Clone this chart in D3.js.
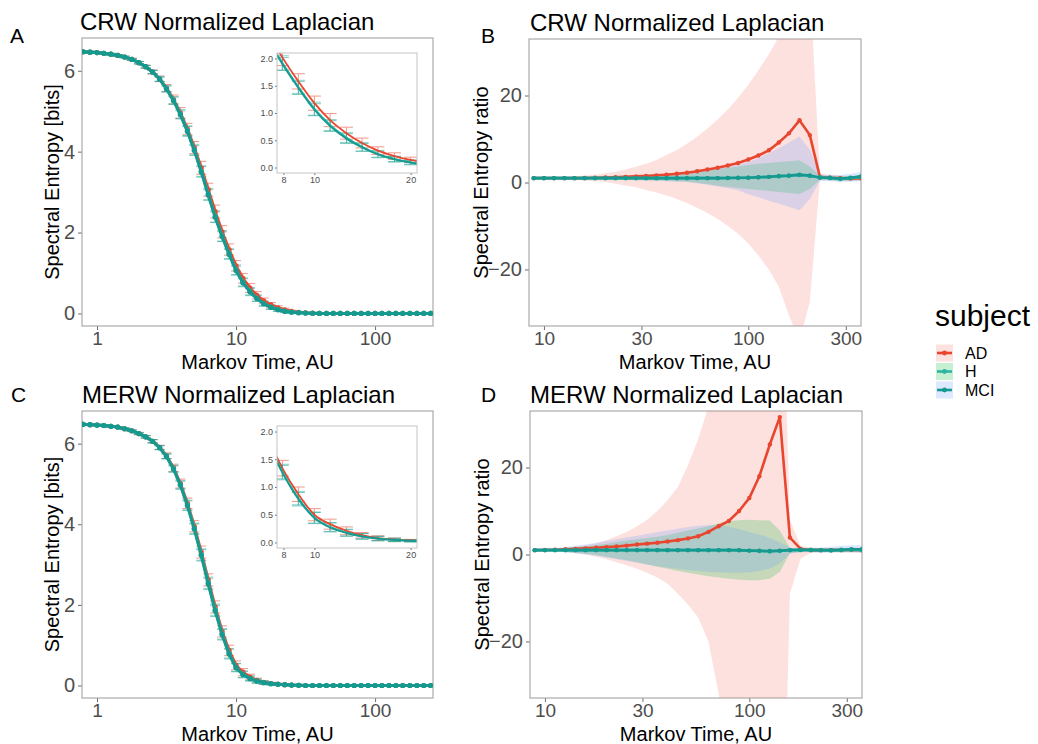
<!DOCTYPE html>
<html lang="en">
<head>
<meta charset="UTF-8">
<script src="https://d3js.org/d3.v7.min.js"></script>
<title>Spectral Entropy</title>
<style>
  body { margin: 0; background: #fff; }
  text { font-family: "Liberation Sans", Arial, sans-serif; }
</style>
</head>
<body>
<svg id="chart" width="1038" height="744"></svg>
<script>
// ---- data ----
// Markov time grid for panels A and C
const timeEntropy = [
  0.794, 0.891, 1, 1.12, 1.26, 1.41, 1.58, 1.78, 2.0, 2.24,
  2.51, 2.82, 3.16, 3.55, 3.98, 4.47, 5.01, 5.62, 6.31, 7.08,
  7.94, 8.91, 10, 11.2, 12.6, 14.1, 15.8, 17.8, 20, 22.4,
  25.1, 28.2, 31.6, 35.5, 39.8, 44.7, 50.1, 56.2, 63.1, 70.8,
  79.4, 89.1, 100, 112, 126, 141, 158, 178, 200, 224,
  251];
// Markov time grid for panels B and D
const timeRatio = [
  8.91, 10, 11.2, 12.6, 14.1, 15.8, 17.8, 20, 22.4, 25.1,
  28.2, 31.6, 35.5, 39.8, 44.7, 50.1, 56.2, 63.1, 70.8, 79.4,
  89.1, 100, 112, 126, 141, 158, 178, 200, 224, 251,
  282, 316, 355];

const subjects = ["AD", "H", "MCI"];

// A: CRW spectral entropy (mean, sd)
const crwAD = [
  6.47, 6.46, 6.45, 6.43, 6.41, 6.38, 6.34, 6.28, 6.20, 6.10,
  5.97, 5.80, 5.57, 5.29, 4.96, 4.56, 4.10, 3.60, 3.06, 2.52,
  2.02, 1.58, 1.18, 0.87, 0.63, 0.45, 0.31, 0.21, 0.14, 0.09,
  0.05, 0.03, 0.015, 0.008, 0, 0, 0, 0, 0, 0,
  0, 0, 0, 0, 0, 0, 0, 0, 0, 0,
  0];
const crwH = [
  6.47, 6.46, 6.45, 6.43, 6.41, 6.38, 6.34, 6.28, 6.20, 6.10,
  5.97, 5.80, 5.56, 5.27, 4.93, 4.52, 4.05, 3.52, 2.95, 2.40,
  1.92, 1.48, 1.08, 0.78, 0.55, 0.38, 0.25, 0.16, 0.10, 0.06,
  0.035, 0.02, 0.01, 0.005, 0, 0, 0, 0, 0, 0,
  0, 0, 0, 0, 0, 0, 0, 0, 0, 0,
  0];
const crwMCI = [
  6.47, 6.46, 6.45, 6.43, 6.41, 6.38, 6.34, 6.28, 6.20, 6.10,
  5.97, 5.79, 5.55, 5.26, 4.91, 4.50, 4.03, 3.50, 2.93, 2.38,
  1.90, 1.46, 1.06, 0.76, 0.53, 0.37, 0.24, 0.15, 0.09, 0.05,
  0.03, 0.02, 0.01, 0.005, 0, 0, 0, 0, 0, 0,
  0, 0, 0, 0, 0, 0, 0, 0, 0, 0,
  0];
const crwSdAD = [
  0.02, 0.02, 0.02, 0.02, 0.02, 0.02, 0.02, 0.03, 0.03, 0.04,
  0.05, 0.07, 0.09, 0.11, 0.13, 0.14, 0.15, 0.16, 0.16, 0.16,
  0.15, 0.14, 0.13, 0.12, 0.11, 0.09, 0.07, 0.06, 0.05, 0.04,
  0.03, 0.02, 0.015, 0.01, 0.005, 0, 0, 0, 0, 0,
  0, 0, 0, 0, 0, 0, 0, 0, 0, 0,
  0];
const crwSdH = [
  0.02, 0.02, 0.02, 0.02, 0.02, 0.02, 0.02, 0.02, 0.03, 0.03,
  0.04, 0.06, 0.08, 0.09, 0.11, 0.12, 0.13, 0.13, 0.14, 0.14,
  0.13, 0.12, 0.12, 0.10, 0.09, 0.08, 0.06, 0.05, 0.04, 0.03,
  0.02, 0.015, 0.01, 0.01, 0.005, 0, 0, 0, 0, 0,
  0, 0, 0, 0, 0, 0, 0, 0, 0, 0,
  0];
const crwSdMCI = [
  0.02, 0.02, 0.02, 0.02, 0.02, 0.02, 0.02, 0.02, 0.03, 0.03,
  0.04, 0.05, 0.07, 0.09, 0.10, 0.12, 0.12, 0.13, 0.13, 0.13,
  0.12, 0.12, 0.11, 0.10, 0.09, 0.07, 0.06, 0.05, 0.04, 0.03,
  0.02, 0.015, 0.01, 0.01, 0.005, 0, 0, 0, 0, 0,
  0, 0, 0, 0, 0, 0, 0, 0, 0, 0,
  0];

// C: MERW spectral entropy (mean, sd)
const merwAD = [
  6.48, 6.47, 6.46, 6.45, 6.43, 6.41, 6.37, 6.32, 6.25, 6.17,
  6.06, 5.91, 5.70, 5.40, 5.01, 4.52, 3.95, 3.31, 2.62, 1.95,
  1.34, 0.87, 0.50, 0.33, 0.21, 0.13, 0.08, 0.05, 0.035, 0.02,
  0.01, 0.005, 0, 0, 0, 0, 0, 0, 0, 0,
  0, 0, 0, 0, 0, 0, 0, 0, 0, 0,
  0];
const merwH = [
  6.48, 6.47, 6.46, 6.45, 6.43, 6.41, 6.37, 6.32, 6.25, 6.17,
  6.06, 5.90, 5.69, 5.38, 4.98, 4.48, 3.90, 3.25, 2.55, 1.88,
  1.28, 0.80, 0.45, 0.28, 0.18, 0.11, 0.07, 0.045, 0.03, 0.02,
  0.01, 0.005, 0, 0, 0, 0, 0, 0, 0, 0,
  0, 0, 0, 0, 0, 0, 0, 0, 0, 0,
  0];
const merwMCI = [
  6.48, 6.47, 6.46, 6.45, 6.43, 6.41, 6.37, 6.32, 6.25, 6.17,
  6.06, 5.90, 5.68, 5.37, 4.97, 4.46, 3.88, 3.23, 2.52, 1.85,
  1.26, 0.78, 0.44, 0.27, 0.17, 0.11, 0.07, 0.045, 0.03, 0.02,
  0.01, 0.005, 0, 0, 0, 0, 0, 0, 0, 0,
  0, 0, 0, 0, 0, 0, 0, 0, 0, 0,
  0];
const merwSdAD = [
  0.01, 0.01, 0.01, 0.01, 0.01, 0.01, 0.02, 0.02, 0.03, 0.03,
  0.04, 0.05, 0.07, 0.09, 0.11, 0.13, 0.14, 0.15, 0.15, 0.15,
  0.14, 0.13, 0.11, 0.09, 0.07, 0.05, 0.04, 0.03, 0.02, 0.015,
  0.01, 0.005, 0, 0, 0, 0, 0, 0, 0, 0,
  0, 0, 0, 0, 0, 0, 0, 0, 0, 0,
  0];
const merwSdH = [
  0.01, 0.01, 0.01, 0.01, 0.01, 0.01, 0.02, 0.02, 0.02, 0.03,
  0.04, 0.05, 0.06, 0.08, 0.10, 0.12, 0.13, 0.14, 0.14, 0.14,
  0.13, 0.12, 0.10, 0.08, 0.06, 0.05, 0.04, 0.03, 0.02, 0.015,
  0.01, 0.005, 0, 0, 0, 0, 0, 0, 0, 0,
  0, 0, 0, 0, 0, 0, 0, 0, 0, 0,
  0];
const merwSdMCI = merwSdH;

// B: CRW spectral entropy ratio (mean, lower, upper)
const crwRatioAD   = [1.0, 1.0, 1.0, 1.0, 1.0, 1.05, 1.1, 1.15, 1.2, 1.3, 1.4, 1.5, 1.65, 1.8, 2.0, 2.25, 2.6, 3.0, 3.4, 3.9, 4.5, 5.3, 6.2, 7.4, 9.2, 11.3, 14.3, 10.9, 1.3, 1.1, 1.0, 0.9, 1.0];
const crwRatioADLo = [0.9, 0.9, 0.8, 0.7, 0.6, 0.4, 0.3, 0.1, -0.3, -0.7, -1.1, -1.7, -2.3, -3.0, -3.8, -4.7, -5.8, -7.0, -8.4, -10.0, -11.8, -14.0, -16.8, -20.0, -24.0, -30.5, -36.5, -27.5, 0.5, 0.5, 0.4, 0.3, 0.4];
const crwRatioADHi = [1.1, 1.1, 1.2, 1.3, 1.4, 1.6, 1.8, 2.1, 2.5, 3.0, 3.6, 4.3, 5.2, 6.3, 7.5, 8.9, 10.5, 12.4, 14.5, 16.8, 19.5, 22.5, 25.8, 29.5, 33.5, 38, 44, 46, 2.0, 1.8, 1.6, 1.5, 1.6];
const crwRatioH    = [1.0, 1.0, 1.0, 1.0, 1.0, 1.0, 1.0, 1.0, 1.0, 1.0, 1.0, 1.0, 1.0, 1.0, 1.0, 1.0, 1.0, 1.0, 1.0, 1.02, 1.05, 1.1, 1.2, 1.3, 1.4, 1.5, 1.7, 1.5, 1.2, 1.0, 0.8, 1.0, 1.3];
const crwRatioHLo  = [0.95, 0.95, 0.9, 0.9, 0.85, 0.8, 0.75, 0.7, 0.65, 0.6, 0.55, 0.5, 0.45, 0.4, 0.3, 0.2, -0.1, -0.4, -0.75, -1.0, -1.25, -1.5, -1.7, -1.95, -2.2, -2.4, -2.65, -1.5, 0.6, 0.5, 0.3, 0.5, 0.6];
const crwRatioHHi  = [1.05, 1.05, 1.1, 1.1, 1.15, 1.2, 1.25, 1.3, 1.4, 1.5, 1.6, 1.7, 1.8, 1.9, 2.0, 2.2, 2.5, 2.8, 3.1, 3.4, 3.7, 4.0, 4.3, 4.5, 4.7, 4.9, 5.1, 3.7, 1.6, 1.5, 1.4, 1.5, 1.6];
const crwRatioMCI   = [1.0, 1.0, 1.0, 1.0, 1.0, 1.0, 1.0, 1.0, 1.0, 1.0, 1.0, 1.0, 1.0, 1.0, 1.0, 1.0, 1.0, 1.0, 1.0, 1.05, 1.1, 1.1, 1.2, 1.3, 1.5, 1.6, 1.8, 1.6, 1.1, 1.1, 0.9, 1.1, 1.4];
const crwRatioMCILo = [0.9, 0.9, 0.85, 0.85, 0.8, 0.75, 0.7, 0.65, 0.6, 0.55, 0.5, 0.45, 0.4, 0.3, 0.2, 0.1, -0.2, -0.5, -0.9, -1.3, -1.8, -2.7, -3.4, -4.2, -4.9, -5.6, -6.4, -3.8, 0.4, 0.3, 0.1, 0.2, 0.3];
const crwRatioMCIHi = [1.1, 1.1, 1.15, 1.2, 1.25, 1.3, 1.35, 1.45, 1.55, 1.65, 1.75, 1.85, 1.95, 2.05, 2.2, 2.4, 2.7, 3.0, 3.3, 3.6, 4.1, 4.8, 5.6, 6.7, 7.9, 9.2, 10.6, 7.6, 1.8, 1.8, 1.7, 2.0, 2.5];

// D: MERW spectral entropy ratio (mean, lower, upper)
const merwRatioAD   = [1.0, 1.05, 1.1, 1.2, 1.3, 1.4, 1.55, 1.7, 1.85, 2.05, 2.3, 2.5, 2.7, 3.0, 3.3, 3.7, 4.2, 5.2, 6.5, 7.7, 10.0, 13.0, 18.0, 25.3, 31.6, 3.9, 1.3, 1.0, 1.0, 1.0, 1.0, 1.1, 1.0];
const merwRatioADLo = [0.9, 0.8, 0.7, 0.6, 0.3, 0, -0.5, -1.1, -1.8, -2.5, -3.3, -4.2, -5.3, -6.7, -9.0, -11.5, -14.5, -20, -32, -45, -55, -65, -75, -90, -101, -9, -1, 0.4, 0.5, 0.5, 0.5, 0.4, 0.4];
const merwRatioADHi = [1.2, 1.3, 1.4, 1.5, 1.8, 2.1, 2.6, 3.3, 4.2, 5.2, 6.5, 8.0, 10.0, 12.5, 15.5, 20.5, 26.5, 34, 42, 50, 60, 70, 80, 85, 86, 8, 2, 1.6, 1.5, 1.5, 1.5, 1.6, 1.6];
const merwRatioH    = [1.0, 1.0, 1.0, 1.0, 1.0, 1.0, 1.0, 1.0, 1.0, 1.0, 1.0, 1.0, 1.0, 1.0, 1.0, 1.0, 1.0, 1.0, 1.0, 1.0, 0.95, 0.9, 0.8, 0.7, 0.8, 1.0, 1.0, 1.1, 1.0, 0.9, 1.0, 1.1, 1.0];
const merwRatioHLo  = [0.9, 0.85, 0.8, 0.6, 0.4, 0.2, -0.1, -0.5, -0.9, -1.3, -1.8, -2.3, -2.8, -3.3, -3.8, -4.2, -4.6, -5.0, -5.3, -5.6, -5.8, -5.9, -5.9, -5.6, -4.0, 0.3, 0.6, 0.6, 0.5, 0.5, 0.5, 0.6, 0.5];
const merwRatioHHi  = [1.2, 1.3, 1.4, 1.5, 1.7, 1.9, 2.2, 2.5, 2.9, 3.2, 3.5, 3.8, 4.1, 4.5, 5.0, 5.5, 6.0, 6.5, 7.2, 7.7, 7.9, 8.0, 7.9, 7.8, 5.5, 1.5, 1.4, 1.5, 1.4, 1.4, 1.5, 1.5, 1.5];
const merwRatioMCI   = [1.0, 1.0, 1.0, 1.0, 1.0, 1.0, 1.0, 1.0, 1.0, 1.0, 1.0, 1.0, 1.0, 1.0, 1.0, 1.0, 1.0, 1.0, 1.0, 1.0, 1.0, 0.9, 0.85, 0.8, 0.9, 1.0, 1.1, 1.0, 1.0, 1.0, 1.1, 1.2, 1.2];
const merwRatioMCILo = [0.9, 0.85, 0.7, 0.5, 0.3, 0.0, -0.3, -0.7, -1.1, -1.5, -1.9, -2.3, -2.7, -3.0, -3.3, -3.6, -3.8, -4.0, -4.1, -4.2, -4.2, -4.1, -3.8, -3.2, -2.0, 0.2, 0.5, 0.5, 0.4, 0.5, 0.5, 0.5, 0.5];
const merwRatioMCIHi = [1.2, 1.3, 1.5, 1.7, 2.0, 2.3, 2.7, 3.1, 3.5, 3.9, 4.3, 4.7, 5.1, 5.5, 5.9, 6.3, 6.6, 6.8, 6.8, 6.4, 5.8, 5.2, 4.6, 3.8, 2.8, 1.6, 1.4, 1.5, 1.6, 1.8, 2.0, 2.1, 2.2];

// ---- style ----
const lineColor = {AD: "#E8462F", H: "#2CB5A2", MCI: "#16998F"};
const ribbonColor = {AD: "#F8766D", H: "#00BA38", MCI: "#619CFF"};
const ribbonAlpha = 0.22;
const tickGrey = "#4D4D4D";
const font = "Liberation Sans, Arial, sans-serif";

const svg = d3.select("#chart");
svg.append("rect").attr("width", 1038).attr("height", 744).attr("fill", "#fff");

function styleAxis(g, size) {
  g.select(".domain").remove();
  g.attr("font-size", size).attr("font-family", font);
  g.selectAll(".tick line").attr("stroke", "#6b6b6b");
  g.selectAll(".tick text").attr("fill", tickGrey);
}

function panelFrame(p, x, y, xTicks, yTicks, yFmt) {
  svg.append("g").attr("transform", `translate(0,${p.y1})`)
    .call(d3.axisBottom(x).tickValues(xTicks).tickFormat(d3.format("d")).tickSize(4).tickPadding(2))
    .call(g => styleAxis(g, 19));
  svg.append("g").attr("transform", `translate(${p.x0},0)`)
    .call(d3.axisLeft(y).tickValues(yTicks).tickFormat(yFmt).tickSize(4).tickPadding(3))
    .call(g => styleAxis(g, 20));
  svg.append("rect").attr("x", p.x0).attr("y", p.y0)
    .attr("width", p.x1 - p.x0).attr("height", p.y1 - p.y0)
    .attr("fill", "none").attr("stroke", "#ababab").attr("stroke-width", 1.2);
  svg.append("text").attr("x", p.titleX).attr("y", p.y0 - 8)
    .attr("font-size", 24).attr("fill", "#000").text(p.title);
  svg.append("text").attr("x", p.labelX).attr("y", p.labelY)
    .attr("font-size", 21).attr("font-family", "Lato, 'Open Sans', sans-serif").text(p.label);
  svg.append("text").attr("x", (p.x0 + p.x1) / 2).attr("y", p.y1 + 42.5)
    .attr("text-anchor", "middle").attr("font-size", 20).text("Markov Time, AU");
  svg.append("text")
    .attr("transform", `translate(${p.yTitleX},${(p.y0 + p.y1) / 2}) rotate(-90)`)
    .attr("text-anchor", "middle").attr("font-size", 20).text(p.yTitle);
}

function clipFor(id, x0, y0, w, h) {
  svg.append("clipPath").attr("id", id)
    .append("rect").attr("x", x0).attr("y", y0).attr("width", w).attr("height", h);
  return `url(#${id})`;
}

function errorBars(g, x, y, t, mean, sd, color, capW, idx) {
  idx.forEach(i => {
    if (sd[i] <= 0) return;
    const cx = x(t[i]), lo = y(mean[i] - sd[i]), hi = y(mean[i] + sd[i]);
    const e = g.append("g").attr("stroke", color).attr("stroke-width", 1).attr("opacity", 0.55);
    e.append("line").attr("x1", cx).attr("x2", cx).attr("y1", lo).attr("y2", hi);
    e.append("line").attr("x1", cx - capW / 2).attr("x2", cx + capW / 2).attr("y1", lo).attr("y2", lo);
    e.append("line").attr("x1", cx - capW / 2).attr("x2", cx + capW / 2).attr("y1", hi).attr("y2", hi);
  });
}

function entropyPanel(p, series, sds) {
  const x = d3.scaleLog().domain([0.78, 261]).range([p.x0, p.x1]);
  const y = d3.scaleLinear().domain([-0.31, 6.81]).range([p.y1, p.y0]);
  panelFrame(p, x, y, [1, 10, 100], [0, 2, 4, 6], d3.format("d"));

  const g = svg.append("g").attr("clip-path", clipFor("clip" + p.label, p.x0, p.y0, p.x1 - p.x0, p.y1 - p.y0));
  const all = d3.range(timeEntropy.length);
  subjects.forEach(s => errorBars(g, x, y, timeEntropy, series[s], sds[s], lineColor[s], 10, all));
  const line = d3.line().x((d, i) => x(timeEntropy[i])).y(d => y(d));
  subjects.forEach(s => {
    g.append("path").attr("d", line(series[s])).attr("fill", "none")
      .attr("stroke", lineColor[s]).attr("stroke-width", 3);
    g.selectAll(null).data(series[s]).enter().append("circle")
      .attr("cx", (d, i) => x(timeEntropy[i])).attr("cy", d => y(d))
      .attr("r", 2.6).attr("fill", lineColor[s]);
  });

  // inset zoom of t = 8..20
  const q = p.inset;
  const xi = d3.scaleLog().domain([7.64, 20.94]).range([q.x0, q.x1]);
  const yi = d3.scaleLinear().domain([-0.1, 2.1]).range([q.y1, q.y0]);
  svg.append("rect").attr("x", q.x0).attr("y", q.y0).attr("width", q.x1 - q.x0).attr("height", q.y1 - q.y0)
    .attr("fill", "#fff");
  const gi = svg.append("g").attr("clip-path", clipFor("inset" + p.label, q.x0, q.y0, q.x1 - q.x0, q.y1 - q.y0));
  const near = d3.range(timeEntropy.length).filter(i => timeEntropy[i] > 7 && timeEntropy[i] < 23);
  const bars = near.filter(i => timeEntropy[i] > 7.5 && timeEntropy[i] < 21);
  subjects.forEach(s => errorBars(gi, xi, yi, timeEntropy, series[s], sds[s], lineColor[s], 13, bars));
  const lineI = d3.line().curve(d3.curveMonotoneX).x(i => xi(timeEntropy[i]));
  subjects.forEach(s => {
    gi.append("path").attr("d", lineI.y(i => yi(series[s][i]))(near)).attr("fill", "none")
      .attr("stroke", lineColor[s]).attr("stroke-width", 1.8);
  });
  svg.append("g").attr("transform", `translate(0,${q.y1})`)
    .call(d3.axisBottom(xi).tickValues([8, 10, 20]).tickFormat(d3.format("d")).tickSize(2).tickPadding(2))
    .call(g2 => styleAxis(g2, 9));
  svg.append("g").attr("transform", `translate(${q.x0},0)`)
    .call(d3.axisLeft(yi).tickValues([0, 0.5, 1, 1.5, 2]).tickFormat(d3.format(".1f")).tickSize(2).tickPadding(2))
    .call(g2 => styleAxis(g2, 9));
  svg.append("rect").attr("x", q.x0).attr("y", q.y0).attr("width", q.x1 - q.x0).attr("height", q.y1 - q.y0)
    .attr("fill", "none").attr("stroke", "#c4c4c4").attr("stroke-width", 1);
}

function ratioPanel(p, mean, lo, hi) {
  const x = d3.scaleLog().domain([8.45, 356]).range([p.x0, p.x1]);
  const y = d3.scaleLinear().domain([-33, 33]).range([p.y1, p.y0]);
  panelFrame(p, x, y, [10, 30, 100, 300], [-20, 0, 20], d3.format("d"));

  const g = svg.append("g").attr("clip-path", clipFor("clip" + p.label, p.x0, p.y0, p.x1 - p.x0, p.y1 - p.y0));
  subjects.forEach(s => {
    const area = d3.area().x((d, i) => x(timeRatio[i])).y0((d, i) => y(lo[s][i])).y1((d, i) => y(hi[s][i]));
    g.append("path").attr("d", area(mean[s])).attr("fill", ribbonColor[s]).attr("fill-opacity", ribbonAlpha);
  });
  const line = d3.line().x((d, i) => x(timeRatio[i])).y(d => y(d));
  subjects.forEach(s => {
    g.append("path").attr("d", line(mean[s])).attr("fill", "none")
      .attr("stroke", lineColor[s]).attr("stroke-width", 2.6);
    g.selectAll(null).data(mean[s]).enter().append("circle")
      .attr("cx", (d, i) => x(timeRatio[i])).attr("cy", d => y(d))
      .attr("r", 2.2).attr("fill", lineColor[s]);
  });
}

entropyPanel(
  {x0: 82, x1: 433, y0: 38, y1: 326, title: "CRW Normalized Laplacian", titleX: 80,
   label: "A", labelX: 10, labelY: 43, yTitle: "Spectral Entropy [bits]", yTitleX: 59,
   inset: {x0: 277, x1: 417, y0: 53, y1: 173}},
  {AD: crwAD, H: crwH, MCI: crwMCI}, {AD: crwSdAD, H: crwSdH, MCI: crwSdMCI});

entropyPanel(
  {x0: 82, x1: 433, y0: 411, y1: 698, title: "MERW Normalized Laplacian", titleX: 82,
   label: "C", labelX: 11, labelY: 402, yTitle: "Spectral Entropy [bits]", yTitleX: 59,
   inset: {x0: 277, x1: 417, y0: 426, y1: 548}},
  {AD: merwAD, H: merwH, MCI: merwMCI}, {AD: merwSdAD, H: merwSdH, MCI: merwSdMCI});

ratioPanel(
  {x0: 529, x1: 861, y0: 39, y1: 326, title: "CRW Normalized Laplacian", titleX: 530,
   label: "B", labelX: 481, labelY: 43, yTitle: "Spectral Entropy ratio", yTitleX: 488},
  {AD: crwRatioAD, H: crwRatioH, MCI: crwRatioMCI},
  {AD: crwRatioADLo, H: crwRatioHLo, MCI: crwRatioMCILo},
  {AD: crwRatioADHi, H: crwRatioHHi, MCI: crwRatioMCIHi});

ratioPanel(
  {x0: 530, x1: 862, y0: 411, y1: 698, title: "MERW Normalized Laplacian", titleX: 530,
   label: "D", labelX: 481, labelY: 402, yTitle: "Spectral Entropy ratio", yTitleX: 489},
  {AD: merwRatioAD, H: merwRatioH, MCI: merwRatioMCI},
  {AD: merwRatioADLo, H: merwRatioHLo, MCI: merwRatioMCILo},
  {AD: merwRatioADHi, H: merwRatioHHi, MCI: merwRatioMCIHi});

// ---- legend ----
const legend = svg.append("g").attr("transform", "translate(935,0)");
legend.append("text").attr("x", 0).attr("y", 326).attr("font-size", 30).text("subject");
subjects.forEach((s, i) => {
  const cy = 353 + i * 18.5;
  legend.append("rect").attr("x", 1).attr("y", cy - 8.5).attr("width", 17).attr("height", 17)
    .attr("fill", ribbonColor[s]).attr("fill-opacity", ribbonAlpha);
  legend.append("line").attr("x1", 2).attr("x2", 17).attr("y1", cy).attr("y2", cy)
    .attr("stroke", lineColor[s]).attr("stroke-width", 2.6);
  legend.append("circle").attr("cx", 9.5).attr("cy", cy).attr("r", 2.4).attr("fill", lineColor[s]);
  legend.append("text").attr("x", 30).attr("y", cy).attr("dy", "0.36em")
    .attr("font-size", 16).text(s);
});
</script>
</body>
</html>
